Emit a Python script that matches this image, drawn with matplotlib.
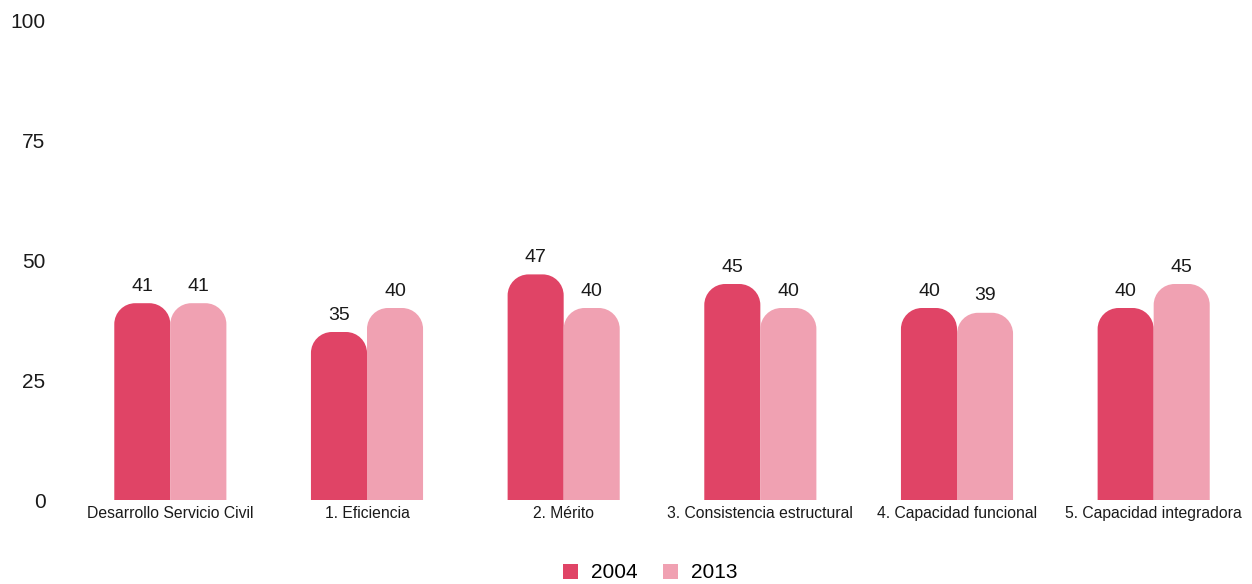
import matplotlib
matplotlib.use("Agg")
import matplotlib.pyplot as plt
from matplotlib.path import Path
from matplotlib.patches import PathPatch, Patch
import numpy as np

plt.rcParams['font.family'] = ['Liberation Sans', 'DejaVu Sans']

categories = ['Desarrollo Servicio Civil', '1. Eficiencia', '2. Mérito',
              '3. Consistencia estructural', '4. Capacidad funcional',
              '5. Capacidad integradora']
vals_2004 = [41, 35, 47, 45, 40, 40]
vals_2013 = [41, 40, 40, 40, 39, 45]
series = ['2004', '2013']
colors = ['#E04466', '#F0A1B2']
yticks = [0, 25, 50, 75, 100]

fig = plt.figure(figsize=(12.52, 5.84), dpi=100)
ax = fig.add_axes([72 / 1252, 84 / 584, 1180 / 1252, 480 / 584])
ax.set_xlim(-0.5, len(categories) - 0.5)
ax.set_ylim(0, 100)

x = np.arange(len(categories))
w = 0.285
bars1 = ax.bar(x - w / 2, vals_2004, w, color=colors[0], visible=False)
bars2 = ax.bar(x + w / 2, vals_2013, w, color=colors[1], visible=False)

# rounded tops: radius in pixels, converted to data units on each axis
r_px = 21
px_x = 1180 / (len(categories))
px_y = 480 / 100
rx = r_px / px_x
ry = r_px / px_y
k = 0.5523


def rounded(b, color):
    x0 = b.get_x()
    x1 = x0 + b.get_width()
    h = b.get_height()
    verts = [(x0, 0), (x0, h - ry),
             (x0, h - ry + k * ry), (x0 + rx - k * rx, h), (x0 + rx, h),
             (x1 - rx, h),
             (x1 - rx + k * rx, h), (x1, h - ry + k * ry), (x1, h - ry),
             (x1, 0), (x0, 0)]
    codes = [Path.MOVETO, Path.LINETO,
             Path.CURVE4, Path.CURVE4, Path.CURVE4,
             Path.LINETO,
             Path.CURVE4, Path.CURVE4, Path.CURVE4,
             Path.LINETO, Path.CLOSEPOLY]
    ax.add_patch(PathPatch(Path(verts, codes), facecolor=color,
                           edgecolor='none'))
    ax.annotate(str(h), (x0 + b.get_width() / 2, h), xytext=(0, 6),
                textcoords='offset points', ha='center', va='bottom',
                fontsize=14, color='#1a1a1a')


for b in bars1:
    rounded(b, colors[0])
for b in bars2:
    rounded(b, colors[1])

ax.set_xticks(x)
ax.set_xticklabels(categories, fontsize=11.3, color='#1a1a1a')
ax.set_yticks(yticks)
ax.set_yticklabels([str(t) for t in yticks], fontsize=15, color='#1a1a1a')
ax.tick_params(axis='x', length=0, pad=4)
ax.tick_params(axis='y', length=0, pad=19)
for s in ax.spines.values():
    s.set_visible(False)

handles = [Patch(facecolor=c, edgecolor='none') for c in colors]
fig.legend(handles, series, loc='center', bbox_to_anchor=(650 / 1252, 1 - 573 / 584),
           ncol=2, frameon=False, fontsize=15, handlelength=0.75,
           handleheight=0.75, handletextpad=0.6, columnspacing=1.2)

fig.savefig('out.png', dpi=100)
